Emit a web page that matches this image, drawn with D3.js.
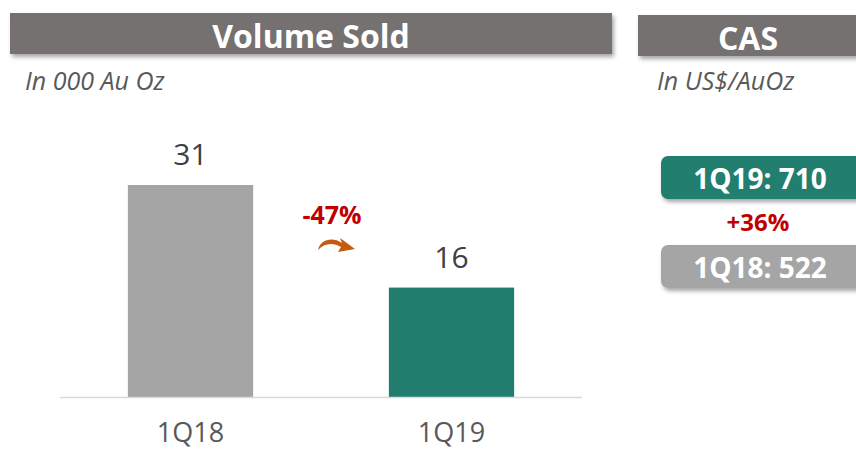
<!DOCTYPE html>
<html>
<head>
<meta charset="utf-8">
<script src="https://cdn.jsdelivr.net/npm/d3@7/dist/d3.min.js"></script>
<style>
  body { margin: 0; background: #fff; }
  svg { display: block; font-family: "Open Sans", "Noto Sans", sans-serif; }
</style>
</head>
<body>
<svg id="chart" width="856" height="452"></svg>
<script>
// data
const categories = ["1Q18", "1Q19"];
const volumes = [31, 16];
const volumeChange = "-47%";
const casLabels = ["1Q19: 710", "1Q18: 522"];
const casChange = "+36%";
const titles = ["Volume Sold", "CAS"];
const units = ["In 000 Au Oz", "In US$/AuOz"];

const colors = ["#A5A5A5", "#217E6E"];

const svg = d3.select("#chart");
const defs = svg.append("defs");
const f = defs.append("filter").attr("id", "shadow")
  .attr("x", "-10%").attr("y", "-20%").attr("width", "130%").attr("height", "160%");
f.append("feDropShadow").attr("dx", 2).attr("dy", 3).attr("stdDeviation", 2)
  .attr("flood-color", "#000").attr("flood-opacity", 0.35);

// header bars
const headers = [
  { x: 10, y: 13, w: 602, h: 41, cx: 311 },
  { x: 638, y: 15, w: 230, h: 41, cx: 748 }
];
headers.forEach((h, i) => {
  svg.append("rect").attr("x", h.x).attr("y", h.y).attr("width", h.w).attr("height", h.h)
    .attr("fill", "#767171").attr("filter", "url(#shadow)");
  svg.append("text").attr("x", h.cx).attr("y", h.y + 35)
    .attr("text-anchor", "middle")
    .attr("fill", "#fff").attr("font-weight", "bold").attr("font-size", 32)
    .text(titles[i]);
});
svg.append("text").attr("x", 25).attr("y", 90).attr("font-style", "italic")
  .attr("font-size", 25).attr("fill", "#595959").text(units[0]);
svg.append("text").attr("x", 657).attr("y", 90).attr("font-style", "italic")
  .attr("font-size", 25).attr("fill", "#595959").text(units[1]);

// bar chart
const baseY = 397;
const x = d3.scaleBand().domain(categories).range([60, 582]).paddingInner(0.52).paddingOuter(0.26);
const y = d3.scaleLinear().domain([0, 31]).range([baseY, 185]);

svg.append("g").selectAll("rect").data(volumes).join("rect")
  .attr("x", (d, i) => x(categories[i]))
  .attr("y", d => y(d))
  .attr("width", x.bandwidth())
  .attr("height", d => baseY - y(d))
  .attr("fill", (d, i) => colors[i]);

svg.append("line").attr("x1", 60).attr("x2", 582).attr("y1", baseY + 0.5).attr("y2", baseY + 0.5)
  .attr("stroke", "#D9D9D9").attr("stroke-width", 1.5);

svg.append("g").selectAll("text").data(volumes).join("text")
  .attr("x", (d, i) => x(categories[i]) + x.bandwidth() / 2)
  .attr("y", d => y(d) - 20)
  .attr("text-anchor", "middle").attr("font-size", 30).attr("fill", "#404040")
  .text(d => d);

svg.append("g").selectAll("text").data(categories).join("text")
  .attr("x", d => x(d) + x.bandwidth() / 2)
  .attr("y", 442)
  .attr("text-anchor", "middle").attr("font-size", 27).attr("fill", "#595959")
  .text(d => d);

// change label and arrow
svg.append("text").attr("x", 332).attr("y", 224).attr("text-anchor", "middle")
  .attr("font-size", 25).attr("font-weight", "bold").attr("fill", "#C00000")
  .text(volumeChange);
svg.append("path")
  .attr("d", "M318,250 C320,240 332,236 342,243 L340,238 L355,249 L338,252 L341,247 C333,242 324,243 318,250 Z")
  .attr("fill", "#C55A11");

// CAS boxes
const boxes = [
  { y: 156, fill: colors[1], label: casLabels[0] },
  { y: 245, fill: colors[0], label: casLabels[1] }
];
boxes.forEach(b => {
  svg.append("rect").attr("x", 661).attr("y", b.y).attr("width", 210).attr("height", 43)
    .attr("rx", 7).attr("fill", b.fill).attr("filter", "url(#shadow)");
  svg.append("text").attr("x", 760).attr("y", b.y + 33)
    .attr("text-anchor", "middle")
    .attr("font-size", 28).attr("font-weight", "bold").attr("fill", "#fff")
    .text(b.label);
});
svg.append("text").attr("x", 758).attr("y", 231).attr("text-anchor", "middle")
  .attr("font-size", 24).attr("font-weight", "bold").attr("fill", "#C00000")
  .text(casChange);
</script>
</body>
</html>
